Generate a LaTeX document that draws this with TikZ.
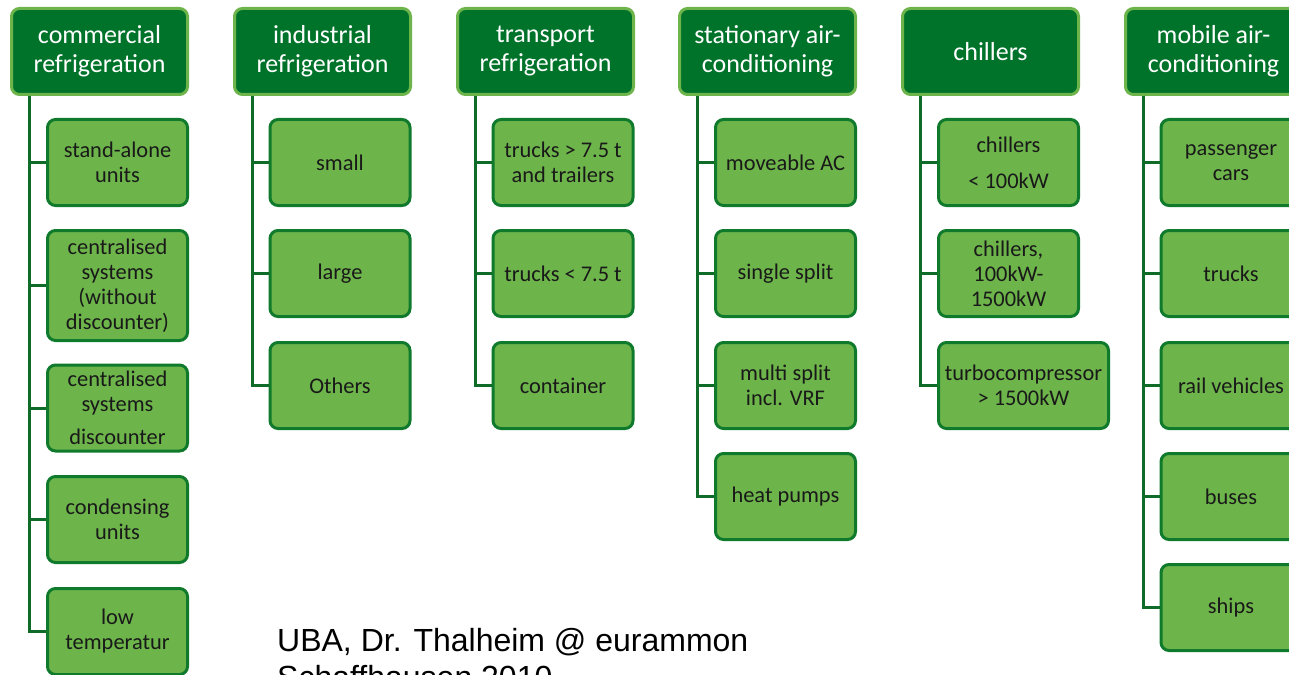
\documentclass[tikz,border=0pt]{standalone}
\usepackage{fontspec}
\setmainfont{Carlito}
\newfontfamily\arialf{Liberation Sans}
\definecolor{hdfill}{HTML}{00732A}
\definecolor{hdline}{HTML}{6DB54B}
\definecolor{chfill}{HTML}{6DB54B}
\definecolor{chline}{HTML}{107A2C}
\definecolor{connc}{HTML}{0E6B28}
\tikzset{
  hdbox/.style={draw=hdline, fill=hdfill, line width=3pt, rounded corners=8pt,
    minimum width=176pt, minimum height=86pt, inner sep=0pt, align=center,
    text=white, font=\fontsize{26}{29}\selectfont},
  chbox/.style={draw=chline, fill=chfill, line width=3pt, rounded corners=8pt,
    minimum width=140pt, minimum height=86pt, inner sep=0pt, align=center,
    text=black!90, font=\fontsize{22.4}{25}\selectfont},
  conn/.style={draw=connc, line width=3pt},
  foot/.style={anchor=base west, inner sep=0pt, font=\arialf\fontsize{32}{37}\selectfont}
}
\begin{document}
\begin{tikzpicture}[x=1pt,y=-1pt]
\clip (0,0) rectangle (1289,674);
\fill[white] (0,0) rectangle (1289,674);
% headers
\node[hdbox] (h1) at (99.5,51.5) {commercial\\refrigeration};
\node[hdbox] (h2) at (322.5,51.5) {industrial\\refrigeration};
\node[hdbox] (h3) at (545.5,51.5) {transport\\refrigeration};
\node[hdbox] (h4) at (767.5,51.5) {stationary air-\\conditioning};
\node[hdbox] (h5) at (990.5,51.5) {chillers};
\node[hdbox] (h6) at (1213.5,51.5) {mobile air-\\conditioning};
% spine coordinates
\coordinate (s1) at (29,96);
\coordinate (s2) at (252,96);
\coordinate (s3) at (475,96);
\coordinate (s4) at (697,96);
\coordinate (s5) at (920,96);
\coordinate (s6) at (1143,96);
% commercial children
\node[chbox] (c1a) at (117.5,162.5) {stand-alone\\units};
\node[chbox, minimum height=110pt] (c1b) at (117.5,285.5) {centralised\\systems\\(without\\discounter)};
\node[chbox] (c1c) at (117.5,408) {centralised\\systems\\[8pt]discounter};
\node[chbox] (c1d) at (117.5,519.5) {condensing\\units};
\node[chbox] (c1e) at (117.5,631.5) {low\\temperatur};
% industrial
\node[chbox] (c2a) at (340,162.5) {small};
\node[chbox] (c2b) at (340,273.5) {large};
\node[chbox] (c2c) at (340,385.5) {Others};
% transport
\node[chbox] (c3a) at (563,162.5) {trucks > 7.5 t\\and trailers};
\node[chbox] (c3b) at (563,273.5) {trucks < 7.5 t};
\node[chbox] (c3c) at (563,385.5) {container};
% stationary
\node[chbox] (c4a) at (785.5,162.5) {moveable AC};
\node[chbox] (c4b) at (785.5,273.5) {single split};
\node[chbox] (c4c) at (785.5,385.5) {multi split\\incl. VRF};
\node[chbox] (c4d) at (785.5,496.5) {heat pumps};
% chillers
\node[chbox] (c5a) at (1008.5,162.5) {chillers\\[11pt]< 100kW};
\node[chbox] (c5b) at (1008.5,273.5) {chillers,\\100kW-\\1500kW};
\node[chbox, minimum width=170pt] (c5c) at (1023.5,385.5) {turbocompressor\\> 1500kW};
% mobile
\node[chbox] (c6a) at (1231,162.5) {passenger\\cars};
\node[chbox] (c6b) at (1231,273.5) {trucks};
\node[chbox] (c6c) at (1231,385.5) {rail vehicles};
\node[chbox] (c6d) at (1231,496.5) {buses};
\node[chbox] (c6e) at (1231,607.5) {ships};
% connectors
\begin{scope}[on background layer/.style={}]
\foreach \c in {c1a,c1b,c1c,c1d,c1e} \draw[conn] (s1) |- (\c.west);
\foreach \c in {c2a,c2b,c2c} \draw[conn] (s2) |- (\c.west);
\foreach \c in {c3a,c3b,c3c} \draw[conn] (s3) |- (\c.west);
\foreach \c in {c4a,c4b,c4c,c4d} \draw[conn] (s4) |- (\c.west);
\foreach \c in {c5a,c5b,c5c} \draw[conn] (s5) |- (\c.west);
\foreach \c in {c6a,c6b,c6c,c6d,c6e} \draw[conn] (s6) |- (\c.west);
\end{scope}
% footer
\node[foot] (f1) at (277,651) {UBA, Dr. Thalheim @ eurammon};
\node[foot] (f2) at (277,688) {Schaffhausen 2010};
\end{tikzpicture}
\end{document}
